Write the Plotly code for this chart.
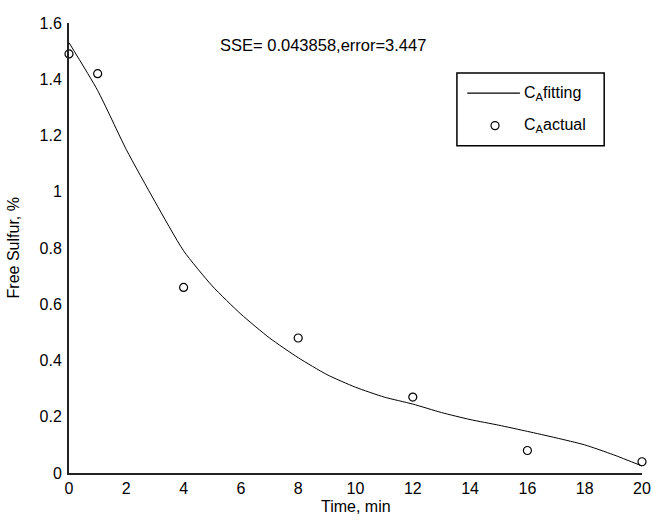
import plotly.graph_objects as go

# Measured free sulfur content over time
time_actual = [0, 1, 4, 8, 12, 16, 20]
sulfur_actual = [1.49, 1.42, 0.66, 0.48, 0.27, 0.08, 0.04]

# Fitted model curve
time_fit = [0, 1, 2, 3, 4, 5, 6, 7, 8, 9, 10, 11, 12, 13, 14, 15, 16, 17, 18, 19, 20]
sulfur_fit = [1.53, 1.36, 1.15, 0.965, 0.79, 0.665, 0.565, 0.48, 0.41, 0.35, 0.305,
              0.27, 0.245, 0.215, 0.19, 0.17, 0.148, 0.125, 0.10, 0.065, 0.025]

y_ticks = [0, 0.2, 0.4, 0.6, 0.8, 1, 1.2, 1.4, 1.6]
x_ticks = [0, 2, 4, 6, 8, 10, 12, 14, 16, 18, 20]

FONT = "Liberation Sans, Arial, sans-serif"

fig = go.Figure()
fig.add_trace(go.Scatter(
    x=time_fit, y=sulfur_fit, mode="lines",
    line=dict(color="black", width=1, shape="spline", smoothing=0.6),
    showlegend=False, cliponaxis=False,
))
fig.add_trace(go.Scatter(
    x=time_actual, y=sulfur_actual, mode="markers",
    marker=dict(symbol="circle-open", size=8, color="black", line=dict(width=1.2)),
    showlegend=False, cliponaxis=False,
))

# Legend box drawn in paper coordinates
lx0, lx1, ly0, ly1 = 0.677, 0.934, 0.727, 0.889
fig.add_shape(type="rect", xref="paper", yref="paper", x0=lx0, x1=lx1, y0=ly0, y1=ly1,
              line=dict(color="black", width=1.5), fillcolor="white")
fig.add_shape(type="line", xref="paper", yref="paper", x0=0.695, x1=0.787, y0=0.844, y1=0.844,
              line=dict(color="black", width=1.2))
fig.add_shape(type="circle", xref="paper", yref="paper", x0=0.7365, x1=0.7505, y0=0.763, y1=0.781,
              line=dict(color="black", width=1.2))
fig.add_annotation(xref="paper", yref="paper", x=0.791, y=0.844, xanchor="left", yanchor="middle",
                   text="C<sub>A</sub>fitting", showarrow=False, font=dict(family=FONT, size=16, color="black"))
fig.add_annotation(xref="paper", yref="paper", x=0.791, y=0.772, xanchor="left", yanchor="middle",
                   text="C<sub>A</sub>actual", showarrow=False, font=dict(family=FONT, size=16, color="black"))

fig.add_annotation(xref="paper", yref="paper", x=0.443, y=0.951, xanchor="center", yanchor="middle",
                   text="SSE= 0.043858,error=3.447", showarrow=False,
                   font=dict(family=FONT, size=16.5, color="black"))

# Axis titles
fig.add_annotation(xref="paper", yref="paper", x=0.5, y=-0.075, xanchor="center", yanchor="middle",
                   text="Time, min", showarrow=False, font=dict(family=FONT, size=16, color="black"))
fig.add_annotation(xref="paper", yref="paper", x=-0.097, y=0.5, xanchor="center", yanchor="middle",
                   text="Free Sulfur, %", textangle=-90, showarrow=False,
                   font=dict(family=FONT, size=16, color="black"))

fig.update_layout(
    width=652, height=516,
    margin=dict(l=69, r=10, t=23, b=43),
    paper_bgcolor="white", plot_bgcolor="white",
    font=dict(family=FONT, size=16, color="black"),
    xaxis=dict(range=[0, 20], tickvals=x_ticks, showgrid=False, zeroline=False,
               showline=True, linecolor="#222", linewidth=2, ticks="",
               automargin=False, ticklabelstandoff=0),
    yaxis=dict(range=[0, 1.6], tickvals=y_ticks, showgrid=False, zeroline=False,
               showline=True, linecolor="#222", linewidth=2, ticks="",
               automargin=False, ticklabelstandoff=2),
)

fig.write_html("out.html")
